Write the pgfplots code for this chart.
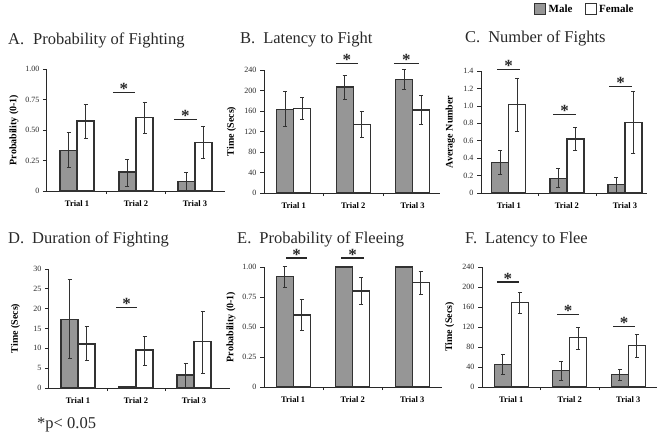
\documentclass[border=0pt]{standalone}
\usepackage{pgfplots}
\pgfplotsset{compat=1.18}
\usepackage{fontspec}
\setmainfont{Liberation Serif}
\definecolor{barg}{RGB}{150,150,150}
\definecolor{edgeg}{RGB}{50,50,50}
\definecolor{axg}{RGB}{40,40,40}

\tikzset{sigstar/.style={pos=0.5, anchor=base, yshift=-2pt, font=\fontsize{17}{17}\selectfont\bfseries, text=axg}}

\pgfplotsset{
  panel/.style={
    scale only axis,
    anchor=south west,
    ybar=0pt, bar width=17pt,
    axis x line*=bottom,
    axis y line*=left,
    axis line style={axg, line width=1pt},
    xtick={1,2,3},
    xticklabels={Trial 1,Trial 2,Trial 3},
    major x tick style={draw=none},
    minor xtick={1.5,2.5},
    minor x tick style={axg, line width=0.5pt},
    minor tick length=3pt,
    major tick length=4pt,
    tick align=outside,
    ytick style={axg, line width=0.7pt},
    x tick label style={font=\fontsize{8.5}{9}\selectfont\bfseries, yshift=-2pt},
    y tick label style={font=\fontsize{8}{9}\selectfont, text=axg},
    ylabel style={font=\fontsize{10}{11}\selectfont\bfseries, at={(axis description cs:-0.185,0.5)}, anchor=center},
    /pgf/number format/assume math mode=true,
    ymin=0,
    clip=false,
  },
  errs/.style={error bars/y dir=both, error bars/y explicit,
    error bars/error bar style={edgeg, line width=0.8pt},
    error bars/error mark options={rotate=90, mark size=2pt, edgeg, line width=0.8pt}},
  malebar/.style={fill=barg, draw=edgeg, line width=1.2pt, errs},
  femalebar/.style={fill=white, draw=edgeg, line width=1.2pt, errs},
  sig/.style={sharp plot, no marks, axg, line width=1.3pt, forget plot},
  sqlegend/.style={legend image code/.code={\draw[##1, line width=0.8pt] (0pt,-5.5pt) rectangle (11pt,5.5pt);}},
}

\begin{document}
\begin{tikzpicture}
\useasboundingbox (0pt,0pt) rectangle (662pt,-436pt);

% ---------------- A ----------------
\begin{axis}[panel, at={(47pt,-191pt)}, width=178pt, height=122pt,
  xmin=0.49, xmax=3.51, ymax=1,
  ytick={0,0.25,0.5,0.75,1}, yticklabels={0,0.25,0.50,0.75,1.00},
  ylabel={Probability (0-1)}]
\addplot[malebar] table[x=x, y=y, y error plus=ep, y error minus=em] {
x y ep em
1 0.335 0.145 0.145
2 0.155 0.105 0.115
3 0.077 0.075 0.077
};
\addplot[femalebar] table[x=x, y=y, y error plus=ep, y error minus=em] {
x y ep em
1 0.574 0.135 0.140
2 0.600 0.130 0.130
3 0.400 0.130 0.130
};
\addplot[sig] coordinates {(1.609,0.81) (1.982,0.81)} node[sigstar] {*};
\addplot[sig] coordinates {(2.643,0.587) (3.032,0.587)} node[sigstar] {*};
\end{axis}

% ---------------- B ----------------
\begin{axis}[panel, at={(264pt,-193pt)}, width=176pt, height=123pt,
  xmin=0.5, xmax=3.46, ymax=240,
  ytick={0,40,80,120,160,200,240},
  ylabel={Time (Secs)}]
\addplot[malebar] table[x=x, y=y, y error plus=ep, y error minus=em] {
x y ep em
1 163 35 34
2 207 23 24
3 222 19 20
};
\addplot[femalebar] table[x=x, y=y, y error plus=ep, y error minus=em] {
x y ep em
1 165 21 22
2 134 26 26
3 162 28 29
};
\addplot[sig] coordinates {(1.710,252) (2.080,252)} node[sigstar] {*};
\addplot[sig] coordinates {(2.685,252) (3.105,252)} node[sigstar] {*};
\end{axis}

% ---------------- C ----------------
\begin{axis}[panel, at={(481pt,-193pt)}, width=166pt, height=122pt,
  xmin=0.52, xmax=3.38, ymax=1.4,
  ytick={0,0.2,0.4,0.6,0.8,1.0,1.2,1.4},
  yticklabels={0,0.2,0.4,0.6,0.8,1.0,1.2,1.4},
  ylabel={Average Number},
  legend style={at={(axis description cs:0.32,1.505)}, anchor=west, draw=none, fill=none,
    legend columns=2, inner sep=0pt, font=\fontsize{11}{12}\selectfont\bfseries,
    nodes={inner sep=2.5pt},
    /tikz/every even column/.append style={column sep=10pt}}]
\addplot[malebar, sqlegend] table[x=x, y=y, y error plus=ep, y error minus=em] {
x y ep em
1 0.35 0.14 0.14
2 0.17 0.11 0.11
3 0.10 0.08 0.09
};
\addlegendentry{Male}
\addplot[femalebar, sqlegend] table[x=x, y=y, y error plus=ep, y error minus=em] {
x y ep em
1 1.02 0.30 0.31
2 0.62 0.13 0.13
3 0.81 0.36 0.36
};
\addlegendentry{Female}
\addplot[sig] coordinates {(0.796,1.42) (1.192,1.42)} node[sigstar] {*};
\addplot[sig] coordinates {(1.761,0.90) (2.158,0.90)} node[sigstar] {*};
\addplot[sig] coordinates {(2.727,1.22) (3.123,1.22)} node[sigstar] {*};
\end{axis}

% ---------------- D ----------------
\begin{axis}[panel, at={(49pt,-388pt)}, width=181pt, height=119pt,
  xmin=0.5, xmax=3.62, ymax=30,
  ytick={0,5,10,15,20,25,30},
  ylabel={Time (Secs)}]
\addplot[malebar] table[x=x, y=y, y error plus=ep, y error minus=em] {
x y ep em
1 17.3 10.1 9.9
2 0.4 0 0
3 3.3 2.9 3.1
};
\addplot[femalebar] table[x=x, y=y, y error plus=ep, y error minus=em] {
x y ep em
1 11.1 4.4 4.2
2 9.6 3.5 3.9
3 11.7 7.7 8.0
};
\addplot[sig] coordinates {(1.655,20.3) (2.017,20.3)} node[sigstar] {*};
\end{axis}

% ---------------- E ----------------
\begin{axis}[panel, at={(264pt,-387pt)}, width=178pt, height=120pt,
  xmin=0.51, xmax=3.5, ymax=1,
  ytick={0,0.25,0.5,0.75,1}, yticklabels={0,0.25,0.50,0.75,1.00},
  ylabel={Probability (0-1)}]
\addplot[malebar] table[x=x, y=y, y error plus=ep, y error minus=em] {
x y ep em
1 0.92 0.085 0.090
2 1.00 0 0
3 1.00 0 0
};
\addplot[femalebar] table[x=x, y=y, y error plus=ep, y error minus=em] {
x y ep em
1 0.60 0.13 0.13
2 0.80 0.11 0.11
3 0.87 0.09 0.10
};
\addplot[sig] coordinates {(0.880,1.075) (1.233,1.075)} node[sigstar] {*};
\addplot[sig] coordinates {(1.804,1.075) (2.191,1.075)} node[sigstar] {*};
\end{axis}

% ---------------- F ----------------
\begin{axis}[panel, at={(482pt,-387pt)}, width=175pt, height=120pt,
  xmin=0.5, xmax=3.49, ymax=240,
  ytick={0,40,80,120,160,200,240},
  ylabel={Time (Secs)}]
\addplot[malebar] table[x=x, y=y, y error plus=ep, y error minus=em] {
x y ep em
1 45 20 20
2 33 19 20
3 25 10 12
};
\addplot[femalebar] table[x=x, y=y, y error plus=ep, y error minus=em] {
x y ep em
1 169 20 21
2 99 21 24
3 83 22 24
};
\addplot[sig] coordinates {(0.756,210) (1.132,210)} node[sigstar] {*};
\addplot[sig] coordinates {(1.782,145) (2.158,145)} node[sigstar] {*};
\addplot[sig] coordinates {(2.739,121) (3.115,121)} node[sigstar] {*};
\end{axis}

% titles
\begin{scope}[every node/.style={anchor=base west, inner sep=0pt, font=\fontsize{16.5}{19}\selectfont, text=axg}]
\node at (8pt,-45pt) {A.\hspace{9pt}Probability of Fighting};
\node at (240pt,-44pt) {B.\hspace{8pt}Latency to Fight};
\node at (465pt,-43pt) {C.\hspace{8pt}Number of Fights};
\node at (8pt,-243pt) {D.\hspace{8pt}Duration of Fighting};
\node at (237pt,-243pt) {E.\hspace{8pt}Probability of Fleeing};
\node at (465pt,-243pt) {F.\hspace{8pt}Latency to Flee};
\node at (37pt,-428pt) {*p< 0.05};
\end{scope}
\end{tikzpicture}
\end{document}
